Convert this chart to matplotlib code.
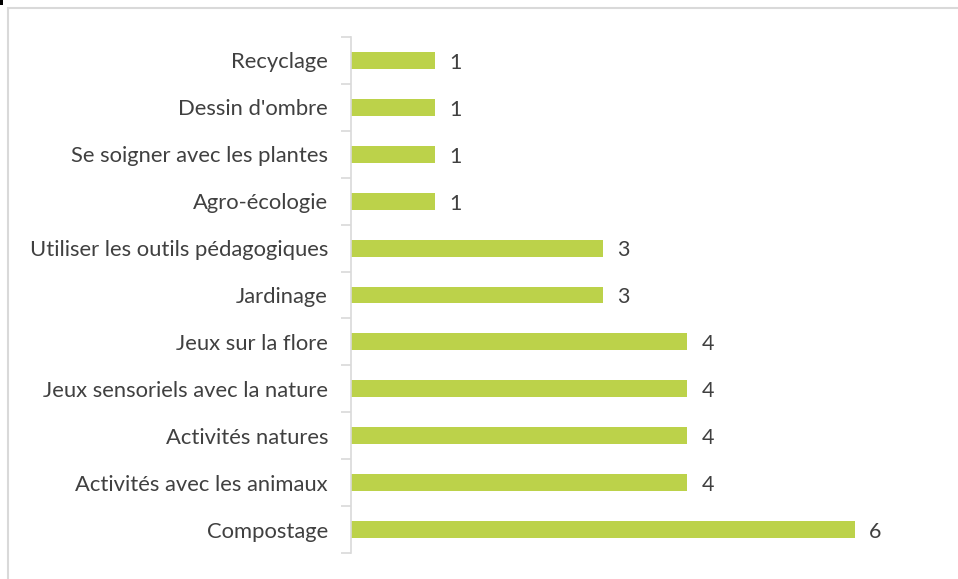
import matplotlib
matplotlib.use("Agg")
import matplotlib.pyplot as plt
from matplotlib.patches import Rectangle

categories = ["Compostage", "Activités avec les animaux", "Activités natures",
              "Jeux sensoriels avec la nature", "Jeux sur la flore", "Jardinage",
              "Utiliser les outils pédagogiques", "Agro-écologie",
              "Se soigner avec les plantes", "Dessin d'ombre", "Recyclage"]
values = [6, 4, 4, 4, 4, 3, 3, 1, 1, 1, 1]

W, H = 958, 579
fig = plt.figure(figsize=(W/100, H/100), dpi=100)
plt.rcParams['font.family'] = ['Lato', 'DejaVu Sans']

# outer frame
fig.add_artist(Rectangle((8/W, -0.05), 1.2, 1 - 8/H + 0.05, transform=fig.transFigure,
                         fill=False, edgecolor='#D9D9D9', linewidth=1.5))
fig.add_artist(Rectangle((0, 1 - 5/H), 2.5/W, 5/H, transform=fig.transFigure,
                         facecolor='black', edgecolor='none'))

ax = fig.add_axes([351/W, 1 - 553/H, (939 - 351)/W, (553 - 37)/H])
y = list(range(len(categories)))
ax.barh(y, values, height=0.36, color='#BCD24A')
ax.set_xlim(0, 7)
ax.set_ylim(-0.5, len(categories) - 0.5)
ax.set_yticks(y)
ax.set_yticklabels(categories, fontsize=15.8, color='#404040')
ax.set_yticks([i - 0.5 for i in range(len(categories) + 1)], minor=True)
ax.tick_params(axis='y', which='major', length=0, pad=16.5)
ax.tick_params(axis='y', which='minor', length=7, width=1.2, color='#D9D9D9')
ax.set_xticks([])
for s in ['top', 'right', 'bottom']:
    ax.spines[s].set_visible(False)
ax.spines['left'].set_color('#D9D9D9')
ax.spines['left'].set_linewidth(1.2)
for yi, v in zip(y, values):
    ax.text(v + 0.17, yi - 0.05, str(v), va='center', ha='left', fontsize=15.5, color='#404040')

fig.savefig("out.png", dpi=100)
